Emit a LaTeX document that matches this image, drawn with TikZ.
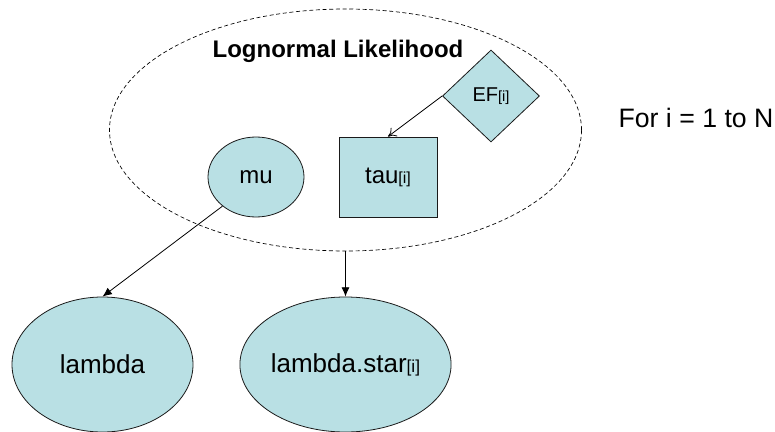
\documentclass[tikz,border=0pt]{standalone}
\usepackage{fontspec}
\setmainfont{Liberation Sans}
\usepackage{tikz}
\usetikzlibrary{shapes.geometric,arrows.meta}
\usepackage{xcolor}
\definecolor{nodefill}{HTML}{B9E0E4}
\definecolor{edgeline}{HTML}{1A1A1A}
\newcommand{\idx}[2][12]{{\fontsize{#1}{#1}\selectfont[#2]}}

\begin{document}
\begin{tikzpicture}[x=0.75pt, y=-0.75pt, >={Latex[length=7pt,width=6pt]},
    var/.style={draw=edgeline, line width=0.6pt, fill=nodefill, inner sep=0pt},
    link/.style={line width=0.6pt, ->}]
    \useasboundingbox (0,0) rectangle (775,432);

    % Plate
    \node[ellipse, draw, dashed, dash pattern=on 3pt off 2pt, line width=0.5pt,
          minimum width=354pt, minimum height=181.5pt] (plate) at (345.5,130) {};
    \node[font=\fontsize{18}{18}\selectfont\bfseries] (platename) at (338,51) {Lognormal Likelihood};
    \node[font=\fontsize{20}{20}\selectfont] (range) at (696,118) {For i = 1 to N};

    % Variables inside the plate
    \node[var, ellipse, minimum width=72pt, minimum height=60pt,
          font=\fontsize{18}{18}\selectfont] (mu) at (256,177) {mu};
    \node[var, rectangle, minimum width=73.5pt, minimum height=60pt,
          font=\fontsize{18}{18}\selectfont] (tau) at (388,177) {tau\idx{i}};
    \node[var, diamond, minimum width=72.75pt, minimum height=69pt,
          font=\fontsize{15}{15}\selectfont] (ef) at (491,96) {EF\idx[11]{i}};

    % Variables below
    \node[var, ellipse, minimum width=135.75pt, minimum height=101.25pt,
          font=\fontsize{19.5}{19.5}\selectfont] (lambda) at (102.5,364.5) {lambda};
    \node[var, ellipse, minimum width=135.75pt, minimum height=101.25pt,
          font=\fontsize{19.5}{19.5}\selectfont] (lstar) at (345.5,364.5) {lambda.star\idx[13]{i}};

    % Links
    \draw[line width=0.6pt, -{To[length=6pt,width=8pt]}] (ef.west) -- (tau.north);
    \draw[link] (mu.221) -- (lambda.north);
    \draw[link] (plate.south) -- (lstar.north);
\end{tikzpicture}
\end{document}
